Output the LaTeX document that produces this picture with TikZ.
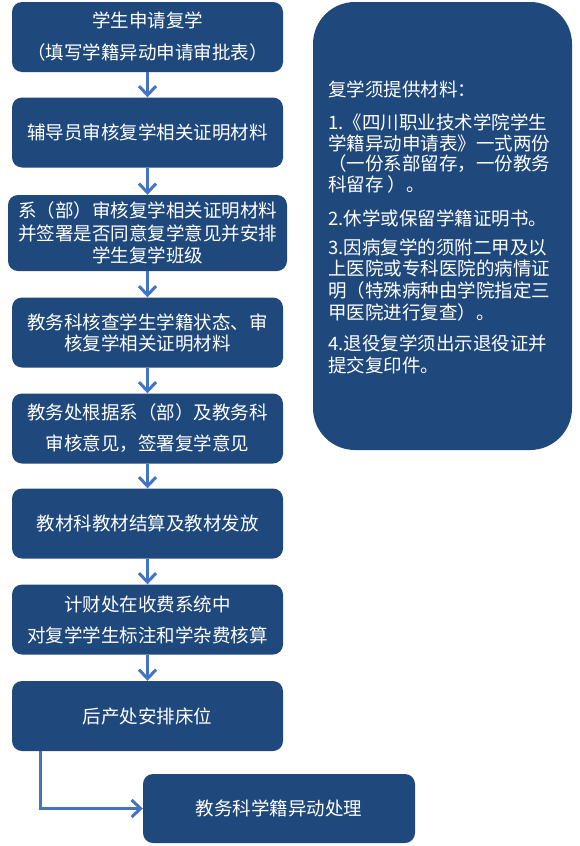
\documentclass[tikz,border=0pt]{standalone}
\usepackage{fontspec}
\setmainfont{Noto Sans CJK SC}
\usetikzlibrary{arrows.meta}
\definecolor{boxblue}{RGB}{31,73,125}
\definecolor{arrowblue}{RGB}{68,114,196}
\tikzset{
  flowbox/.style={fill=boxblue, rounded corners=10pt, text=white, align=center,
    minimum width=271pt, minimum height=70pt, inner sep=0pt,
    font=\fontsize{18.5}{22}\selectfont},
  flowarrow/.style={draw=arrowblue, line width=3pt,
    -{Straight Barb[length=9pt,width=17pt]}},
  notetext/.style={anchor=base west, text=white, inner sep=0pt,
    font=\fontsize{18.5}{22}\selectfont},
}
\begin{document}
\begin{tikzpicture}[x=1pt,y=-1pt]
\fill[white] (0,0) rectangle (580,846);
\useasboundingbox (0,0) rectangle (580,846);

\node[flowbox] (b1) at (147.5,37) {学生申请复学\\[10pt]（填写学籍异动申请审批表）};
\node[flowbox] (b2) at (147.5,132.5) {辅导员审核复学相关证明材料};
\node[flowbox, minimum width=279pt, minimum height=76pt] (b3) at (147.5,233)
  {系（部）审核复学相关证明材料\\[0.5pt]并签署是否同意复学意见并安排\\[0.5pt]学生复学班级};
\node[flowbox] (b4) at (147.5,332.5) {教务科核查学生学籍状态、审\\[-1pt]核复学相关证明材料};
\node[flowbox] (b5) at (147.5,428.5) {教务处根据系（部）及教务科\\[9pt]审核意见，签署复学意见};
\node[flowbox] (b6) at (147.5,523.5) {教材科教材结算及教材发放};
\node[flowbox] (b7) at (147.5,619.5) {计财处在收费系统中\\[9pt]对复学学生标注和学杂费核算};
\node[flowbox] (b8) at (147.5,716) {后产处安排床位};
\node[flowbox, minimum width=272pt, minimum height=69pt] (b9) at (279,808.5) {教务科学籍异动处理};

\node[fill=boxblue, rounded corners=42pt, minimum width=259pt, minimum height=448pt, inner sep=0pt] (rb) at (442.5,226) {};

\foreach \i/\yy/\t in {
  1/89/{复学须提供材料：},
  2/122/{1.《四川职业技术学院学生},
  3/143/{学籍异动申请表》一式两份},
  4/163/{（一份系部留存，一份教务},
  5/184/{科留存 ）。},
  6/218/{2.休学或保留学籍证明书。},
  7/247/{3.因病复学的须附二甲及以},
  8/268/{上医院或专科医院的病情证},
  9/290/{明（特殊病种由学院指定三},
  10/312/{甲医院进行复查）。},
  11/343/{4.退役复学须出示退役证并},
  12/365/{提交复印件。}}
  \node[notetext] (n\i) at (328,\yy+7) {\t};

\draw[flowarrow] (b1) -- (b2);
\draw[flowarrow] (b2) -- (b3);
\draw[flowarrow] (b3) -- (b4);
\draw[flowarrow] (b4) -- (b5);
\draw[flowarrow] (b5) -- (b6);
\draw[flowarrow] (b6) -- (b7);
\draw[flowarrow] (b7) -- (b8);
\coordinate (turn) at (40,808.5);
\draw[flowarrow] (b8.south -| turn) -- (turn) -- (b9.west);
\end{tikzpicture}
\end{document}
